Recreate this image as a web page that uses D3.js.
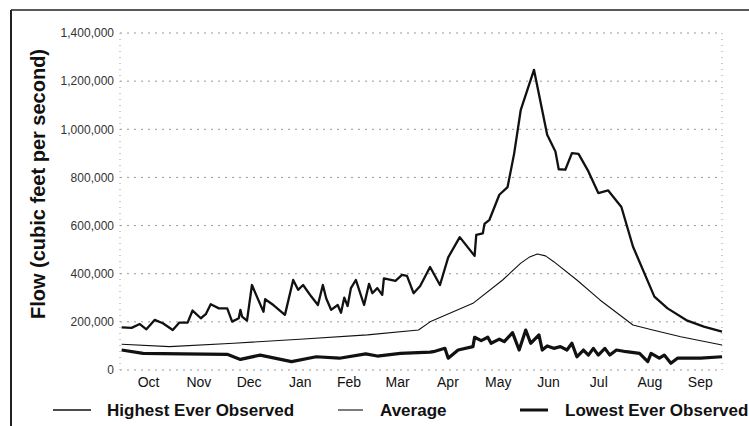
<!DOCTYPE html>
<html>
<head>
<meta charset="utf-8">
<script src="https://cdn.jsdelivr.net/npm/d3@7"></script>
<style>
    body { margin: 0; background: #fff; }
    svg { display: block; font-family: "Liberation Sans", Arial, sans-serif; }
</style>
</head>
<body>
<div id="chart"></div>
<script>
// Water year, days counted from Oct 1
const months = ["Oct", "Nov", "Dec", "Jan", "Feb", "Mar", "Apr", "May", "Jun", "Jul", "Aug", "Sep"];
const monthStart = [0, 31, 61, 92, 123, 151, 182, 212, 243, 273, 304, 335, 365];
const yTicks = [0, 200000, 400000, 600000, 800000, 1000000, 1200000, 1400000];

// Highest ever observed (cfs)
const highDays = [1, 7, 12, 16, 21, 26, 32, 36, 41, 44, 49, 52, 55, 60, 65, 68, 72, 73, 74, 77,
    80, 83, 87, 88, 93, 100, 105, 108, 111, 116, 120, 123, 125, 128, 132, 134, 136, 138, 140, 143,
    148, 151, 153, 156, 159, 160, 167, 171, 174, 178, 182, 188, 194, 199, 206, 215, 216, 220, 221, 224,
    230, 235, 239, 243, 251, 259, 264, 266, 270, 274, 278, 284, 290, 296, 304, 311, 324, 332, 344, 354, 365];
const highFlow = [177000, 175000, 191000, 169000, 208000, 194000, 166000, 197000, 197000, 247000,
    215000, 232000, 273000, 256000, 256000, 201000, 215000, 250000, 222000, 205000,
    353000, 305000, 242000, 294000, 270000, 229000, 374000, 333000, 353000, 305000,
    270000, 353000, 298000, 250000, 270000, 238000, 301000, 266000, 340000, 374000,
    270000, 358000, 319000, 340000, 312000, 381000, 370000, 395000, 391000, 319000,
    349000, 428000, 353000, 468000, 552000, 474000, 561000, 568000, 607000, 624000,
    728000, 760000, 900000, 1081000, 1247000, 977000, 908000, 834000, 832000, 901000,
    898000, 825000, 735000, 746000, 677000, 513000, 305000, 256000, 205000, 180000, 159000];

// Average (cfs)
const avgDays = [1, 30, 69, 109, 150, 181, 188, 214, 232, 243, 248, 253, 258, 263, 277, 291, 311, 323, 340, 365];
const avgFlow = [107000, 97000, 111000, 128000, 146000, 166000, 200000, 277000, 374000, 444000,
    468000, 482000, 474000, 450000, 374000, 291000, 187000, 166000, 138000, 104000];

// Lowest ever observed (cfs)
const lowDays = [1, 14, 38, 65, 73, 85, 104, 119, 133, 149, 156, 170, 188, 190, 197, 199, 205, 214, 215, 219,
    223, 225, 230, 233, 238, 242, 246, 249, 254, 256, 259, 263, 267, 271, 274, 277, 281, 284, 287, 290,
    294, 297, 301, 307, 315, 320, 322, 327, 330, 334, 338, 352, 365];
const lowFlow = [83000, 69000, 67000, 65000, 44000, 62000, 35000, 55000, 49000, 67000,
    58000, 69000, 74000, 76000, 90000, 49000, 83000, 97000, 136000, 122000,
    136000, 111000, 128000, 118000, 155000, 83000, 166000, 111000, 146000, 83000,
    100000, 90000, 97000, 83000, 111000, 55000, 83000, 62000, 90000, 62000,
    90000, 62000, 83000, 76000, 69000, 35000, 69000, 49000, 62000, 28000,
    49000, 49000, 55000];

const width = 749, height = 426;
const plotLeft = 120, plotRight = 722, plotTop = 33, plotBottom = 370;

const svg = d3.select("#chart").append("svg")
    .attr("width", width)
    .attr("height", height);

const x = d3.scaleLinear().domain([0, 365]).range([plotLeft, plotRight]);
const y = d3.scaleLinear().domain([0, 1400000]).range([plotBottom, plotTop]);

// Outer frame (top and left edges of the scanned panel)
svg.append("line").attr("x1", 11).attr("x2", width).attr("y1", 10).attr("y2", 10)
    .attr("stroke", "#222").attr("stroke-width", 1.5);
svg.append("line").attr("x1", 11).attr("x2", 11).attr("y1", 10).attr("y2", height)
    .attr("stroke", "#222").attr("stroke-width", 2);

// Dotted gridlines
svg.append("g").selectAll("line")
    .data(yTicks)
    .enter().append("line")
    .attr("x1", plotLeft).attr("x2", plotRight)
    .attr("y1", d => y(d)).attr("y2", d => y(d))
    .attr("stroke", "#999")
    .attr("stroke-width", 1)
    .attr("stroke-dasharray", "2,5");

// Left and right plot edges
[plotLeft, plotRight].forEach(px => {
    svg.append("line").attr("x1", px).attr("x2", px).attr("y1", plotTop).attr("y2", plotBottom)
        .attr("stroke", "#999").attr("stroke-width", 1).attr("stroke-dasharray", "1,5");
});

// Y axis labels
const yAxis = d3.axisLeft(y).tickValues(yTicks).tickSize(0).tickPadding(6)
    .tickFormat(d3.format(",d"));
svg.append("g")
    .attr("transform", `translate(${plotLeft},0)`)
    .call(yAxis)
    .call(g => g.select(".domain").remove())
    .call(g => g.selectAll("text")
        .attr("font-size", 12)
        .attr("fill", "#333")
        .attr("font-family", "\"Liberation Sans\", Arial, sans-serif"));

// Month labels at mid-month
const monthMid = months.map((m, i) => (monthStart[i] + monthStart[i + 1]) / 2);
svg.append("g").selectAll("text")
    .data(months)
    .enter().append("text")
    .attr("x", (d, i) => x(monthMid[i]) + 3)
    .attr("y", 387)
    .attr("text-anchor", "middle")
    .attr("font-size", 14)
    .attr("fill", "#111")
    .text(d => d);

// Y axis title
svg.append("text")
    .attr("transform", "translate(45,184) rotate(-90)")
    .attr("text-anchor", "middle")
    .attr("font-size", 20)
    .attr("font-weight", "bold")
    .attr("fill", "#111")
    .text("Flow (cubic feet per second)");

// Series
const series = [
    { name: "Highest Ever Observed", days: highDays, flow: highFlow, w: 2.3 },
    { name: "Average", days: avgDays, flow: avgFlow, w: 1.1 },
    { name: "Lowest Ever Observed", days: lowDays, flow: lowFlow, w: 3.2 }
];

const line = d3.line()
    .x(d => x(d[0]))
    .y(d => y(d[1]));

svg.append("g").selectAll("path")
    .data(series)
    .enter().append("path")
    .attr("d", s => line(s.days.map((dd, i) => [dd, s.flow[i]])))
    .attr("fill", "none")
    .attr("stroke", "#111")
    .attr("stroke-width", s => s.w)
    .attr("stroke-linejoin", "round");

// Legend
const legendX = [53, 338, 520];
const legend = svg.append("g").selectAll("g")
    .data(series)
    .enter().append("g")
    .attr("transform", (d, i) => `translate(${legendX[i]},410)`);
legend.append("line")
    .attr("x1", 0).attr("x2", (d, i) => [38, 25, 28][i])
    .attr("y1", 0).attr("y2", 0)
    .attr("stroke", "#111")
    .attr("stroke-width", (d, i) => [1.6, 1.1, 3][i]);
legend.append("text")
    .attr("x", (d, i) => [54, 42, 45][i])
    .attr("y", 6)
    .attr("font-size", 17)
    .attr("font-weight", "bold")
    .attr("fill", "#111")
    .text(d => d.name);
</script>
</body>
</html>
